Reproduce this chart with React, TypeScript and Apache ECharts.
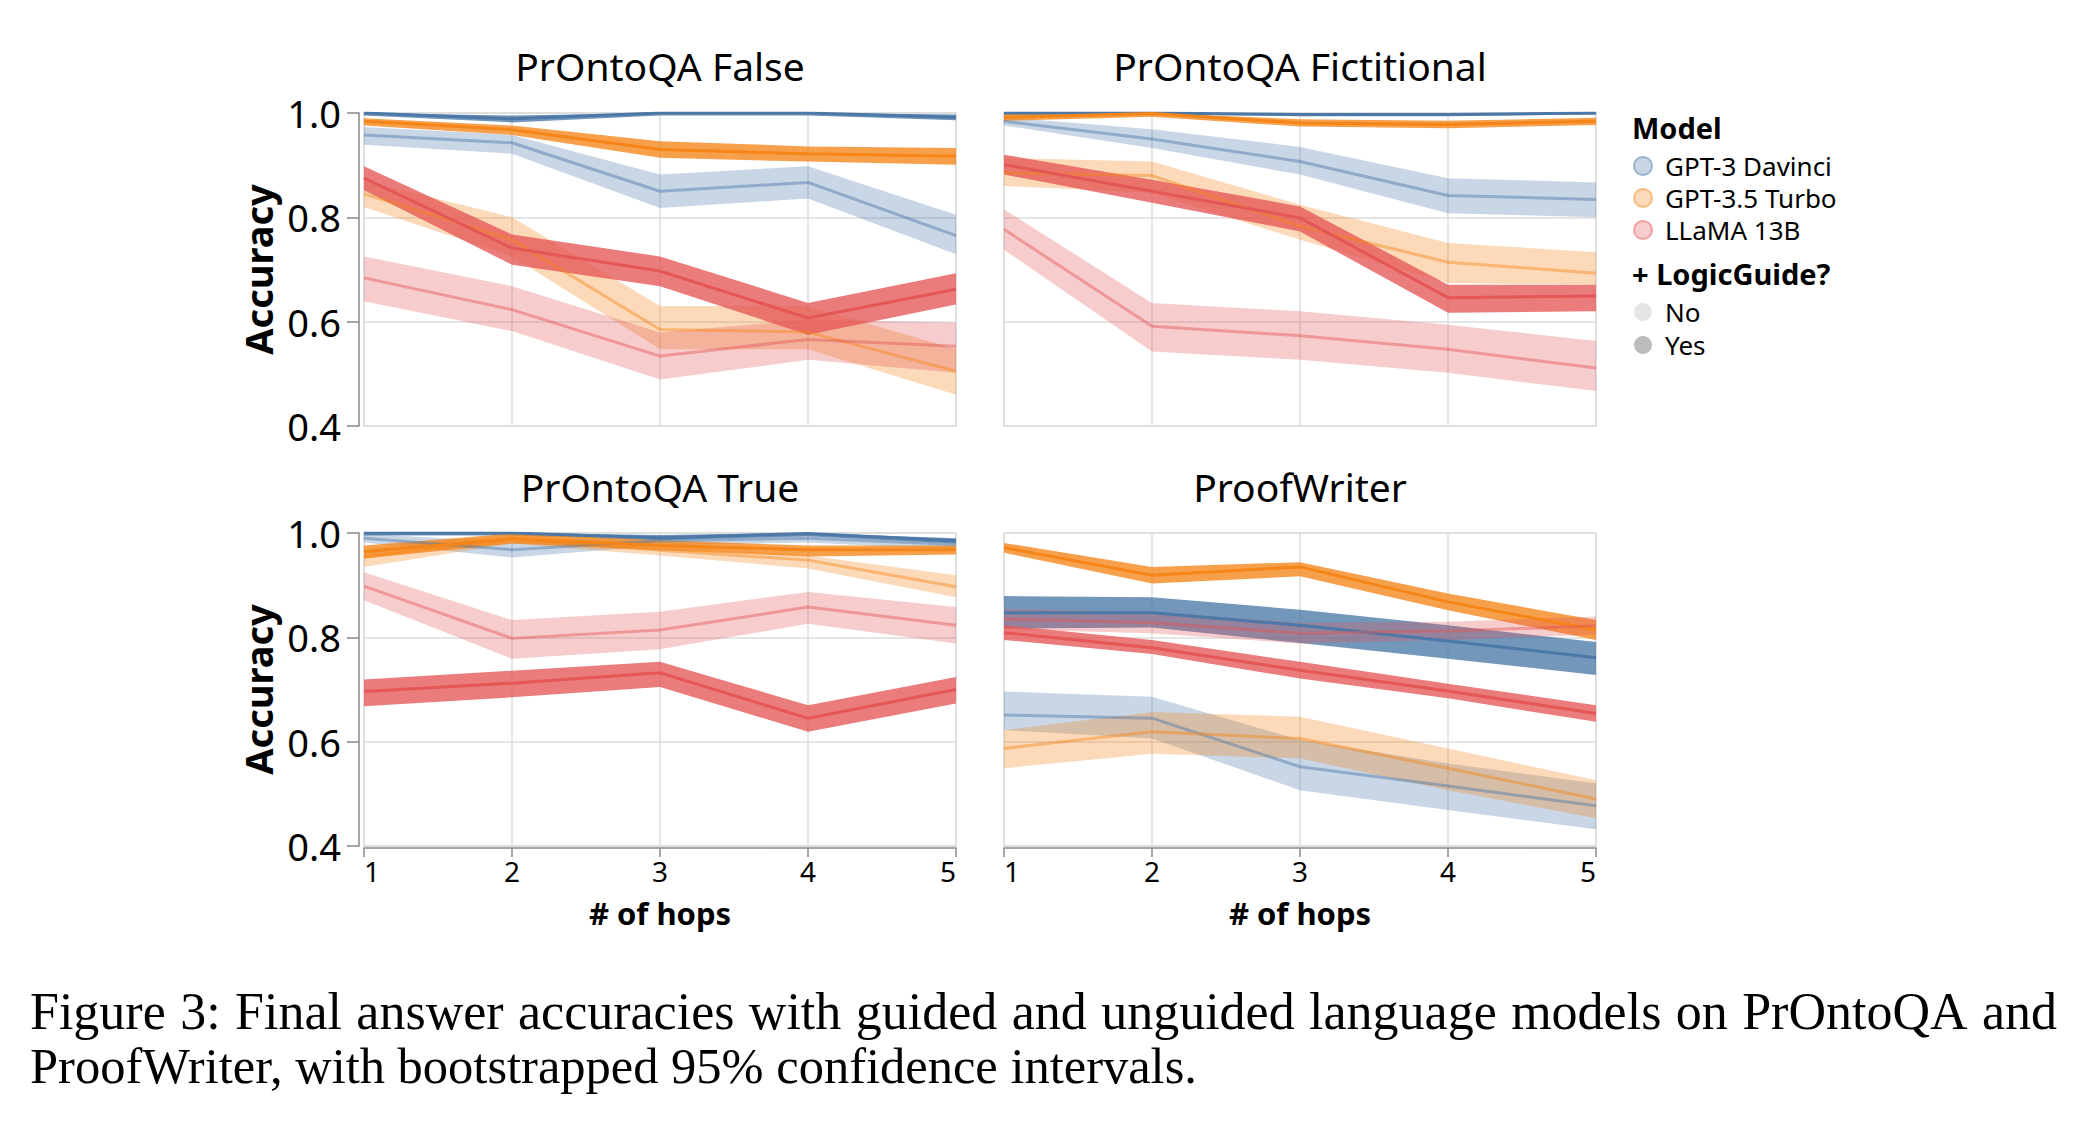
import React, { useEffect, useRef } from 'react';
import * as echarts from 'echarts';

// ---------- data ----------
const HOPS = ['1', '2', '3', '4', '5'];
const PANEL_TITLES = ['PrOntoQA False', 'PrOntoQA Fictitional', 'PrOntoQA True', 'ProofWriter'];
const MODELS = ['GPT-3 Davinci', 'GPT-3.5 Turbo', 'LLaMA 13B'];
const GUIDE_LEVELS = ['No', 'Yes'];
const CAPTION_LINE_1 = 'Figure 3: Final answer accuracies with guided and unguided language models on PrOntoQA and';
const CAPTION_LINE_2 = 'ProofWriter, with bootstrapped 95% confidence intervals.';

// each entry per hop: [lower CI, mean, upper CI]
const falseDavinciNo = [[0.939, 0.958, 0.973], [0.922, 0.943, 0.958], [0.818, 0.85, 0.882], [0.836, 0.867, 0.898], [0.729, 0.765, 0.805]];
const falseDavinciYes = [[0.995, 1.0, 1.0], [0.982, 0.989, 0.995], [0.995, 1.0, 1.0], [0.995, 1.0, 1.0], [0.986, 0.992, 0.997]];
const falseTurboNo = [[0.82, 0.845, 0.87], [0.725, 0.757, 0.8], [0.547, 0.585, 0.63], [0.547, 0.58, 0.63], [0.46, 0.505, 0.547]];
const falseTurboYes = [[0.976, 0.984, 0.99], [0.958, 0.968, 0.976], [0.914, 0.93, 0.946], [0.907, 0.922, 0.936], [0.901, 0.917, 0.933]];
const falseLlamaNo = [[0.639, 0.684, 0.725], [0.582, 0.623, 0.668], [0.489, 0.534, 0.579], [0.527, 0.566, 0.604], [0.502, 0.553, 0.598]];
const falseLlamaYes = [[0.852, 0.875, 0.898], [0.709, 0.741, 0.767], [0.668, 0.697, 0.725], [0.575, 0.607, 0.636], [0.633, 0.662, 0.693]];

const fictDavinciNo = [[0.976, 0.984, 0.992], [0.933, 0.95, 0.969], [0.882, 0.907, 0.935], [0.808, 0.842, 0.875], [0.8, 0.834, 0.867]];
const fictDavinciYes = [[0.997, 1.0, 1.0], [0.997, 1.0, 1.0], [0.994, 0.997, 1.0], [0.994, 0.997, 1.0], [0.997, 1.0, 1.0]];
const fictTurboNo = [[0.86, 0.885, 0.914], [0.847, 0.88, 0.907], [0.757, 0.783, 0.824], [0.674, 0.714, 0.751], [0.671, 0.693, 0.733]];
const fictTurboYes = [[0.985, 0.992, 0.998], [0.993, 0.999, 1.0], [0.974, 0.981, 0.988], [0.971, 0.978, 0.985], [0.977, 0.984, 0.991]];
const fictLlamaNo = [[0.738, 0.777, 0.815], [0.543, 0.591, 0.636], [0.527, 0.573, 0.62], [0.502, 0.547, 0.594], [0.467, 0.511, 0.563]];
const fictLlamaYes = [[0.882, 0.901, 0.92], [0.828, 0.85, 0.872], [0.773, 0.799, 0.821], [0.617, 0.646, 0.671], [0.62, 0.649, 0.671]];

const trueDavinciNo = [[0.982, 0.99, 0.998], [0.953, 0.968, 0.983], [0.976, 0.985, 0.994], [0.982, 0.99, 0.997], [0.968, 0.978, 0.988]];
const trueDavinciYes = [[0.995, 1.0, 1.0], [0.995, 1.0, 1.0], [0.986, 0.991, 0.996], [0.994, 0.999, 1.0], [0.98, 0.985, 0.99]];
const trueTurboNo = [[0.935, 0.954, 0.97], [0.98, 0.989, 0.997], [0.957, 0.967, 0.977], [0.932, 0.948, 0.957], [0.877, 0.897, 0.919]];
const trueTurboYes = [[0.951, 0.964, 0.976], [0.98, 0.989, 0.999], [0.967, 0.976, 0.986], [0.955, 0.968, 0.976], [0.959, 0.968, 0.976]];
const trueLlamaNo = [[0.871, 0.898, 0.925], [0.759, 0.798, 0.833], [0.777, 0.814, 0.849], [0.826, 0.858, 0.887], [0.788, 0.823, 0.858]];
const trueLlamaYes = [[0.668, 0.696, 0.719], [0.685, 0.712, 0.736], [0.705, 0.732, 0.753], [0.619, 0.645, 0.67], [0.673, 0.7, 0.724]];

const pwDavinciNo = [[0.622, 0.651, 0.696], [0.606, 0.645, 0.686], [0.507, 0.552, 0.603], [0.469, 0.515, 0.558], [0.432, 0.477, 0.52]];
const pwDavinciYes = [[0.817, 0.847, 0.879], [0.819, 0.847, 0.877], [0.789, 0.823, 0.853], [0.759, 0.793, 0.823], [0.728, 0.761, 0.791]];
const pwTurboNo = [[0.549, 0.587, 0.622], [0.577, 0.619, 0.657], [0.568, 0.606, 0.648], [0.507, 0.549, 0.587], [0.453, 0.49, 0.526]];
const pwTurboYes = [[0.962, 0.972, 0.981], [0.903, 0.919, 0.935], [0.917, 0.935, 0.944], [0.852, 0.868, 0.884], [0.795, 0.814, 0.833]];
const pwLlamaNo = [[0.815, 0.835, 0.855], [0.808, 0.828, 0.848], [0.788, 0.808, 0.828], [0.795, 0.812, 0.83], [0.805, 0.822, 0.84]];
const pwLlamaYes = [[0.795, 0.809, 0.823], [0.768, 0.78, 0.795], [0.721, 0.737, 0.753], [0.683, 0.697, 0.711], [0.638, 0.654, 0.67]];

// panel -> model -> [No, Yes]
const PANEL_DATA = [
  [[falseDavinciNo, falseDavinciYes], [falseTurboNo, falseTurboYes], [falseLlamaNo, falseLlamaYes]],
  [[fictDavinciNo, fictDavinciYes], [fictTurboNo, fictTurboYes], [fictLlamaNo, fictLlamaYes]],
  [[trueDavinciNo, trueDavinciYes], [trueTurboNo, trueTurboYes], [trueLlamaNo, trueLlamaYes]],
  [[pwDavinciNo, pwDavinciYes], [pwTurboNo, pwTurboYes], [pwLlamaNo, pwLlamaYes]],
];

// ---------- styles ----------
const MODEL_RGB = [[76, 120, 168], [245, 133, 24], [228, 87, 86]];
const BAND_ALPHA = [0.3, 0.78];
const LINE_ALPHA = [0.45, 1];
const FONT = '"Noto Sans", sans-serif';
const CAP_FONT_FAMILY = '"Liberation Serif", "Times New Roman", serif';
const CAP_SIZE_1 = 52;
const CAP_SIZE_2 = 50.5;

const rgba = (c: number[], a: number) => `rgba(${c[0]},${c[1]},${c[2]},${a})`;

const GRID_LEFT = [364, 1004];
const GRID_TOP = [113, 533];
const GRID_W = 592;
const GRID_H = 313;

function captionWords(): any[] {
  const words = CAPTION_LINE_1.split(' ');
  const x0 = 30;
  const x1 = 2057;
  const y = 1011;
  const canvas = document.createElement('canvas');
  const ctx = canvas.getContext('2d');
  const els: any[] = [];
  if (!ctx) {
    els.push({ type: 'text', x: x0, y, style: { text: CAPTION_LINE_1, fontSize: CAP_SIZE_1, fontFamily: CAP_FONT_FAMILY, fill: '#000', textVerticalAlign: 'middle' } });
    return els;
  }
  ctx.font = `${CAP_SIZE_1}px ${CAP_FONT_FAMILY}`;
  const widths = words.map((w) => ctx.measureText(w).width);
  const total = widths.reduce((a, b) => a + b, 0);
  const gap = (x1 - x0 - total) / (words.length - 1);
  let x = x0;
  words.forEach((w, i) => {
    els.push({ type: 'text', x, y, style: { text: w, fontSize: CAP_SIZE_1, fontFamily: CAP_FONT_FAMILY, fill: '#000', textVerticalAlign: 'middle' } });
    x += widths[i] + gap;
  });
  return els;
}

function buildOption() {
  const grid: any[] = [];
  const xAxis: any[] = [];
  const yAxis: any[] = [];
  const series: any[] = [];
  const graphic: any[] = [];

  PANEL_TITLES.forEach((title, p) => {
    const col = p % 2;
    const row = Math.floor(p / 2);
    grid.push({
      left: GRID_LEFT[col], top: GRID_TOP[row], width: GRID_W, height: GRID_H,
      show: true, borderColor: '#dddddd', borderWidth: 1.5, backgroundColor: 'transparent',
    });
    const xa: any = {
      gridIndex: p, type: 'category', data: HOPS, boundaryGap: false, offset: 2,
      axisLine: { show: row === 1, lineStyle: { color: '#888', width: 1.5 } },
      axisTick: { show: row === 1, length: 9, lineStyle: { color: '#888', width: 1.5 } },
      axisLabel: {
        show: row === 1, fontSize: 28, color: '#000', margin: 9, fontFamily: FONT,
        alignMinLabel: 'left', alignMaxLabel: 'right',
      },
      splitLine: { show: true, lineStyle: { color: '#dddddd', width: 1.5 } },
    };
    if (row === 1) {
      xa.name = '# of hops';
      xa.nameLocation = 'middle';
      xa.nameGap = 49;
      xa.nameTextStyle = { fontSize: 31, fontWeight: 'bold', color: '#000', fontFamily: FONT };
    }
    xAxis.push(xa);
    const ya: any = {
      gridIndex: p, type: 'value', min: 0.4, max: 1.0, interval: 0.2, offset: col === 0 ? 5 : 0,
      axisLine: { show: col === 0, lineStyle: { color: '#888', width: 1.5 } },
      axisTick: { show: col === 0, length: 12, lineStyle: { color: '#888', width: 1.5 } },
      axisLabel: {
        show: col === 0, fontSize: 38, color: '#000', margin: 18, fontFamily: FONT,
        formatter: (v: number) => v.toFixed(1),
      },
      splitLine: { show: true, lineStyle: { color: '#dddddd', width: 1.5 } },
    };
    if (col === 0) {
      ya.name = 'Accuracy';
      ya.nameLocation = 'middle';
      ya.nameRotate = 90;
      ya.nameGap = 82;
      ya.nameTextStyle = { fontSize: 38, fontWeight: 'bold', color: '#000', fontFamily: FONT };
    }
    yAxis.push(ya);

    graphic.push({
      type: 'text', x: GRID_LEFT[col] + GRID_W / 2, y: row === 0 ? 65 : 486,
      style: { text: title, fontSize: 39, fontFamily: FONT, fill: '#000', textAlign: 'center', textVerticalAlign: 'middle' },
    });

    PANEL_DATA[p].forEach((modelSeries, m) => {
      modelSeries.forEach((pts, g) => {
        const key = `band-${p}-${m}-${g}`;
        const lo = pts.map((d) => d[0]);
        const mean = pts.map((d) => d[1]);
        const span = pts.map((d) => +(d[2] - d[0]).toFixed(4));
        const common = {
          type: 'line', xAxisIndex: p, yAxisIndex: p, symbol: 'none', silent: true,
          emphasis: { disabled: true },
        };
        series.push({ ...common, name: key + '-lo', data: lo, stack: key, lineStyle: { width: 0, opacity: 0 } });
        series.push({
          ...common, name: key + '-hi', data: span, stack: key, lineStyle: { width: 0, opacity: 0 },
          areaStyle: { color: rgba(MODEL_RGB[m], BAND_ALPHA[g]), opacity: 1 },
        });
        series.push({
          ...common, name: `${MODELS[m]} ${GUIDE_LEVELS[g]}`, data: mean,
          lineStyle: { width: 3, color: rgba(MODEL_RGB[m], LINE_ALPHA[g]) },
        });
      });
    });
  });

  // legend (drawn as graphic)
  const LX = 1632;
  const legendText = (text: string, x: number, y: number, bold: boolean) => ({
    type: 'text', x, y,
    style: {
      text, fontSize: bold ? 29 : 26, fontWeight: bold ? 'bold' : 'normal', fontFamily: FONT,
      fill: '#000', textVerticalAlign: 'middle', lineHeight: 28,
    },
  });
  graphic.push(legendText('Model', LX, 127, true));
  const modelY = [166, 198, 230];
  MODELS.forEach((name, m) => {
    graphic.push({ type: 'circle', shape: { cx: LX + 11, cy: modelY[m], r: 9 }, style: { fill: rgba(MODEL_RGB[m], 0.3), stroke: rgba(MODEL_RGB[m], 0.45), lineWidth: 2 } });
    graphic.push(legendText(name, LX + 33, modelY[m], false));
  });
  graphic.push(legendText('+ LogicGuide?', LX, 273, true));
  const guideY = [312, 345];
  const guideFill = ['#e6e6e6', '#bcbcbc'];
  GUIDE_LEVELS.forEach((name, g) => {
    graphic.push({ type: 'circle', shape: { cx: LX + 11, cy: guideY[g], r: 9 }, style: { fill: guideFill[g] } });
    graphic.push(legendText(name, LX + 33, guideY[g], false));
  });

  // caption: first line justified, second line left aligned
  captionWords().forEach((el) => graphic.push(el));
  graphic.push({ type: 'text', x: 30, y: 1066, style: { text: CAPTION_LINE_2, fontSize: CAP_SIZE_2, fontFamily: CAP_FONT_FAMILY, fill: '#000', textVerticalAlign: 'middle' } });

  return { animation: false, backgroundColor: '#ffffff', grid, xAxis, yAxis, series, graphic };
}

export default function App() {
  const ref = useRef<HTMLDivElement>(null);
  useEffect(() => {
    if (!ref.current) return;
    const chart = echarts.init(ref.current, undefined, { renderer: 'svg' });
    chart.setOption(buildOption() as any);
    return () => chart.dispose();
  }, []);
  return <div ref={ref} style={{ position: 'absolute', left: 0, top: 0, width: 2096, height: 1126, background: '#fff' }} />;
}
